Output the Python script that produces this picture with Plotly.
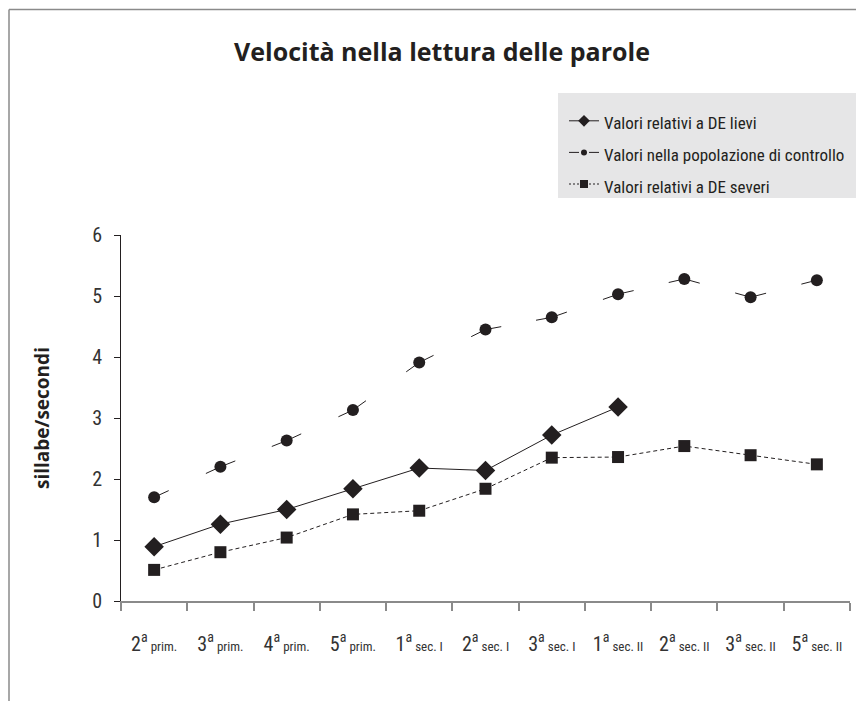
import plotly.graph_objects as go

categories = ["2a prim.", "3a prim.", "4a prim.", "5a prim.", "1a sec. I", "2a sec. I",
              "3a sec. I", "1a sec. II", "2a sec. II", "3a sec. II", "5a sec. II"]
tick_numbers = ["2", "3", "4", "5", "1", "2", "3", "1", "2", "3", "5"]
tick_rest = ["prim.", "prim.", "prim.", "prim.", "sec. I", "sec. I", "sec. I",
             "sec. II", "sec. II", "sec. II", "sec. II"]
lievi = [0.89, 1.26, 1.50, 1.84, 2.18, 2.14, 2.72, 3.18, None, None, None]
controllo = [1.70, 2.20, 2.63, 3.13, 3.91, 4.45, 4.65, 5.03, 5.28, 4.98, 5.26]
severi = [0.51, 0.80, 1.04, 1.42, 1.48, 1.84, 2.35, 2.36, 2.54, 2.39, 2.24]
y_ticks = [0, 1, 2, 3, 4, 5, 6]

names = ["Valori relativi a DE lievi", "Valori nella popolazione di controllo",
         "Valori relativi a DE severi"]

INK = "#231f20"
OFF = 8  # page body margin
W, H = 864 - OFF, 701 - OFF
# plot area in screen pixels
SX0, SX1, SY0, SY1 = 121, 850, 235, 601
L, R, T, B = SX0 - OFF, W - (SX1 - OFF), SY0 - OFF, H - (SY1 - OFF)
PW, PH = SX1 - SX0, SY1 - SY0


def px_x(p):
    return (p - SX0) / PW


def px_y(p):
    return (SY1 - p) / PH


tick_text = [f"{n}<sup>a</sup><span style='font-size:13px'> {r}</span>"
             for n, r in zip(tick_numbers, tick_rest)]

fig = go.Figure()

# DE lievi
fig.add_trace(go.Scatter(x=categories, y=lievi, mode="lines+markers",
                         line=dict(color=INK, width=1),
                         marker=dict(symbol="diamond", size=15, color=INK),
                         showlegend=False, cliponaxis=False))

# Controllo: short segments around each point
for i in range(len(categories) - 1):
    for a, b in ((i, i + 1), (i + 1, i)):
        fig.add_trace(go.Scatter(x=[categories[a], categories[b]],
                                 y=[controllo[a], controllo[b]], mode="lines",
                                 line=dict(color=INK, width=1, dash="16px,2000px"),
                                 showlegend=False, hoverinfo="skip"))
fig.add_trace(go.Scatter(x=categories, y=controllo, mode="markers",
                         marker=dict(symbol="circle", size=12, color=INK),
                         showlegend=False, cliponaxis=False))

# DE severi
fig.add_trace(go.Scatter(x=categories, y=severi, mode="lines+markers",
                         line=dict(color=INK, width=1, dash="4px,3px"),
                         marker=dict(symbol="square", size=12, color=INK),
                         showlegend=False, cliponaxis=False))

# Legend-only entries
leg_styles = [
    (dict(color=INK, width=1), dict(symbol="diamond", size=9, color=INK)),
    (dict(color=INK, width=1, dash="10px,4px,2px,4px,12px,100px"), dict(symbol="circle", size=6, color=INK)),
    (dict(color=INK, width=1, dash="2px,2px"), dict(symbol="square", size=8, color=INK)),
]
for nm, (ln, mk) in zip(names, leg_styles):
    fig.add_trace(go.Scatter(x=[None], y=[None], mode="lines+markers", name=
                             f"<span style='font-size:17px'>{nm}</span>",
                             line=ln, marker=mk, showlegend=True))

shapes = [
    # outer frame
    dict(type="line", xref="paper", yref="paper", x0=px_x(9), x1=px_x(880),
         y0=px_y(9.5), y1=px_y(9.5), line=dict(color="#8a8a8a", width=1.5)),
    dict(type="line", xref="paper", yref="paper", x0=px_x(9), x1=px_x(9),
         y0=px_y(9.5), y1=px_y(720), line=dict(color="#8a8a8a", width=1.5)),
    # legend background
    dict(type="rect", xref="paper", yref="paper", x0=px_x(558), x1=px_x(861),
         y0=px_y(93), y1=px_y(198), fillcolor="#e6e6e7", line=dict(width=0),
         layer="below"),
]

fig.update_layout(
    width=W, height=H,
    margin=dict(l=L, r=R, t=T, b=B, autoexpand=False),
    paper_bgcolor="white", plot_bgcolor="white",
    font=dict(family="Liberation Sans Narrow, Roboto Condensed, Roboto, sans-serif", color="#333333"),
    title=dict(text="<b>Velocità nella lettura delle parole</b>",
               font=dict(family="Open Sans, Noto Sans, sans-serif", size=25, color=INK),
               x=px_x(442), xref="paper", xanchor="center",
               y=1 - (52 - OFF) / H, yref="container", yanchor="middle"),
    showlegend=True,
    legend=dict(x=px_x(564), y=px_y(100), xanchor="left", yanchor="top",
                bgcolor="rgba(0,0,0,0)", font=dict(size=22, color=INK),
                itemwidth=30, tracegroupgap=0),
    shapes=shapes,
    annotations=[dict(text="<b>sillabe/secondi</b>", xref="paper", yref="paper",
                      x=px_x(42), y=px_y(418), textangle=-90, showarrow=False,
                      xanchor="center", yanchor="middle",
                      font=dict(family="Open Sans, Noto Sans, sans-serif", size=19, color=INK))],
)

fig.update_xaxes(type="category", categoryarray=categories, tickvals=categories,
                 ticktext=tick_text, tickson="boundaries", ticks="outside",
                 ticklen=8, tickcolor="#8a8a8a", tickwidth=1.5,
                 showline=True, linecolor="#8a8a8a", linewidth=1.5,
                 showgrid=False, zeroline=False, range=[-0.5, 10.5],
                 tickfont=dict(size=20, color="#333333"), ticklabelstandoff=24)
fig.update_yaxes(range=[0, 6], tickvals=y_ticks, ticks="outside", ticklen=6,
                 tickcolor=INK, showline=True, linecolor=INK, linewidth=1,
                 showgrid=False, zeroline=False,
                 tickfont=dict(size=20, color="#333333"), ticklabelstandoff=8)

fig.write_html("out.html")
